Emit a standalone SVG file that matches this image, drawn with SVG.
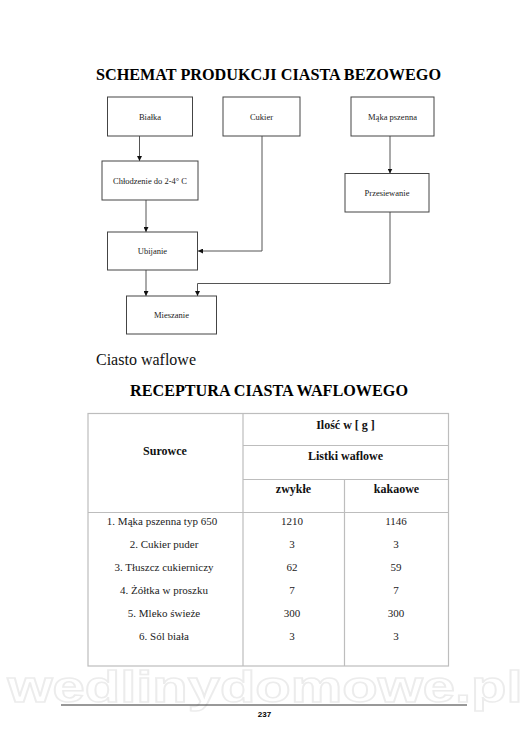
<svg xmlns="http://www.w3.org/2000/svg" width="530" height="750" viewBox="0 0 530 750">
<defs>
<marker id="ah" viewBox="0 0 10 10" refX="10" refY="5" markerWidth="5" markerHeight="5" orient="auto" markerUnits="userSpaceOnUse">
<path d="M0,0 L10,5 L0,10 z" fill="#111"/>
</marker>
<style>
.box{fill:#fff;stroke:#444;stroke-width:1}
.bt{font-family:"Liberation Serif",serif;font-size:8.5px;fill:#222;text-anchor:middle}
.con{fill:none;stroke:#555;stroke-width:1}
.tl{stroke:#bdbdbd;stroke-width:1.2;fill:none}
.th{font-family:"Liberation Serif",serif;font-size:12px;font-weight:bold;fill:#111;text-anchor:middle}
.td{font-family:"Liberation Serif",serif;font-size:11px;fill:#222;text-anchor:middle}
</style>
</defs>
<rect width="530" height="750" fill="#fff"/>
<text x="268.5" y="80" font-family="'Liberation Serif',serif" font-size="16.5" font-weight="bold" text-anchor="middle" textLength="345" lengthAdjust="spacingAndGlyphs" fill="#000">SCHEMAT PRODUKCJI CIASTA BEZOWEGO</text>

<g id="connectors">
<path class="con" d="M139.5,136 V161" marker-end="url(#ah)"/>
<path class="con" d="M146,200 V232" marker-end="url(#ah)"/>
<path class="con" d="M262,136 V251 H198" marker-end="url(#ah)"/>
<path class="con" d="M390,136 V173.5" marker-end="url(#ah)"/>
<path class="con" d="M390,212 V283.5 H197.5 V296" marker-end="url(#ah)"/>
<path class="con" d="M146,270 V296" marker-end="url(#ah)"/>
</g>

<g id="bialka"><rect class="box" x="107.5" y="97" width="85" height="39"/><text class="bt" x="150" y="119.5">Białka</text></g>
<g id="cukier"><rect class="box" x="223" y="97" width="77" height="39"/><text class="bt" x="261.5" y="119.5">Cukier</text></g>
<g id="maka"><rect class="box" x="351" y="97" width="83" height="39"/><text class="bt" x="392.5" y="119.5">Mąka pszenna</text></g>
<g id="chlodzenie"><rect class="box" x="102" y="161" width="96" height="39"/><text class="bt" x="150" y="183.5">Chłodzenie do 2-4° C</text></g>
<g id="przesiewanie"><rect class="box" x="345" y="173.5" width="84" height="38.5"/><text class="bt" x="387" y="195.5">Przesiewanie</text></g>
<g id="ubijanie"><rect class="box" x="107.5" y="232" width="90" height="38"/><text class="bt" x="152.5" y="254">Ubijanie</text></g>
<g id="mieszanie"><rect class="box" x="126.5" y="296" width="90" height="38"/><text class="bt" x="171.5" y="318">Mieszanie</text></g>

<text x="96" y="365" font-family="'Liberation Serif',serif" font-size="16" fill="#111">Ciasto waflowe</text>
<text x="269" y="396" font-family="'Liberation Serif',serif" font-size="17" font-weight="bold" text-anchor="middle" textLength="278" lengthAdjust="spacingAndGlyphs" fill="#000">RECEPTURA CIASTA WAFLOWEGO</text>

<text x="265" y="702" font-family="'Liberation Sans',sans-serif" font-size="44" font-weight="bold" text-anchor="middle" textLength="515" lengthAdjust="spacingAndGlyphs" fill="#fff" stroke="#ececec" stroke-width="1.5">wedlinydomowe.pl</text>

<g id="table">
<rect class="tl" x="88" y="413.5" width="360.5" height="252.5"/>
<path class="tl" d="M243,413.5 V666 M344.5,479.5 V666 M243,445.5 H448.5 M243,479.5 H448.5 M88,512.5 H448.5"/>
<text class="th" x="165" y="455">Surowce</text>
<text class="th" x="345.5" y="429">Ilość w [ g ]</text>
<text class="th" x="345.5" y="460">Listki waflowe</text>
<text class="th" x="293.5" y="493">zwykłe</text>
<text class="th" x="396.5" y="493">kakaowe</text>
<text class="td" x="162" y="525">1. Mąka pszenna typ 650</text>
<text class="td" x="164" y="548">2. Cukier puder</text>
<text class="td" x="164" y="571">3. Tłuszcz cukierniczy</text>
<text class="td" x="164" y="594">4. Żółtka w proszku</text>
<text class="td" x="164" y="617">5. Mleko świeże</text>
<text class="td" x="164" y="640">6. Sól biała</text>
<text class="td" x="292" y="525">1210</text>
<text class="td" x="292" y="548">3</text>
<text class="td" x="292" y="571">62</text>
<text class="td" x="292" y="594">7</text>
<text class="td" x="292" y="617">300</text>
<text class="td" x="292" y="640">3</text>
<text class="td" x="396" y="525">1146</text>
<text class="td" x="396" y="548">3</text>
<text class="td" x="396" y="571">59</text>
<text class="td" x="396" y="594">7</text>
<text class="td" x="396" y="617">300</text>
<text class="td" x="396" y="640">3</text>
</g>

<line x1="61" y1="705" x2="467" y2="705" stroke="#333" stroke-width="1"/>
<text x="264.5" y="717" font-family="'Liberation Sans',sans-serif" font-size="8" font-weight="bold" text-anchor="middle" fill="#000">237</text>
</svg>
